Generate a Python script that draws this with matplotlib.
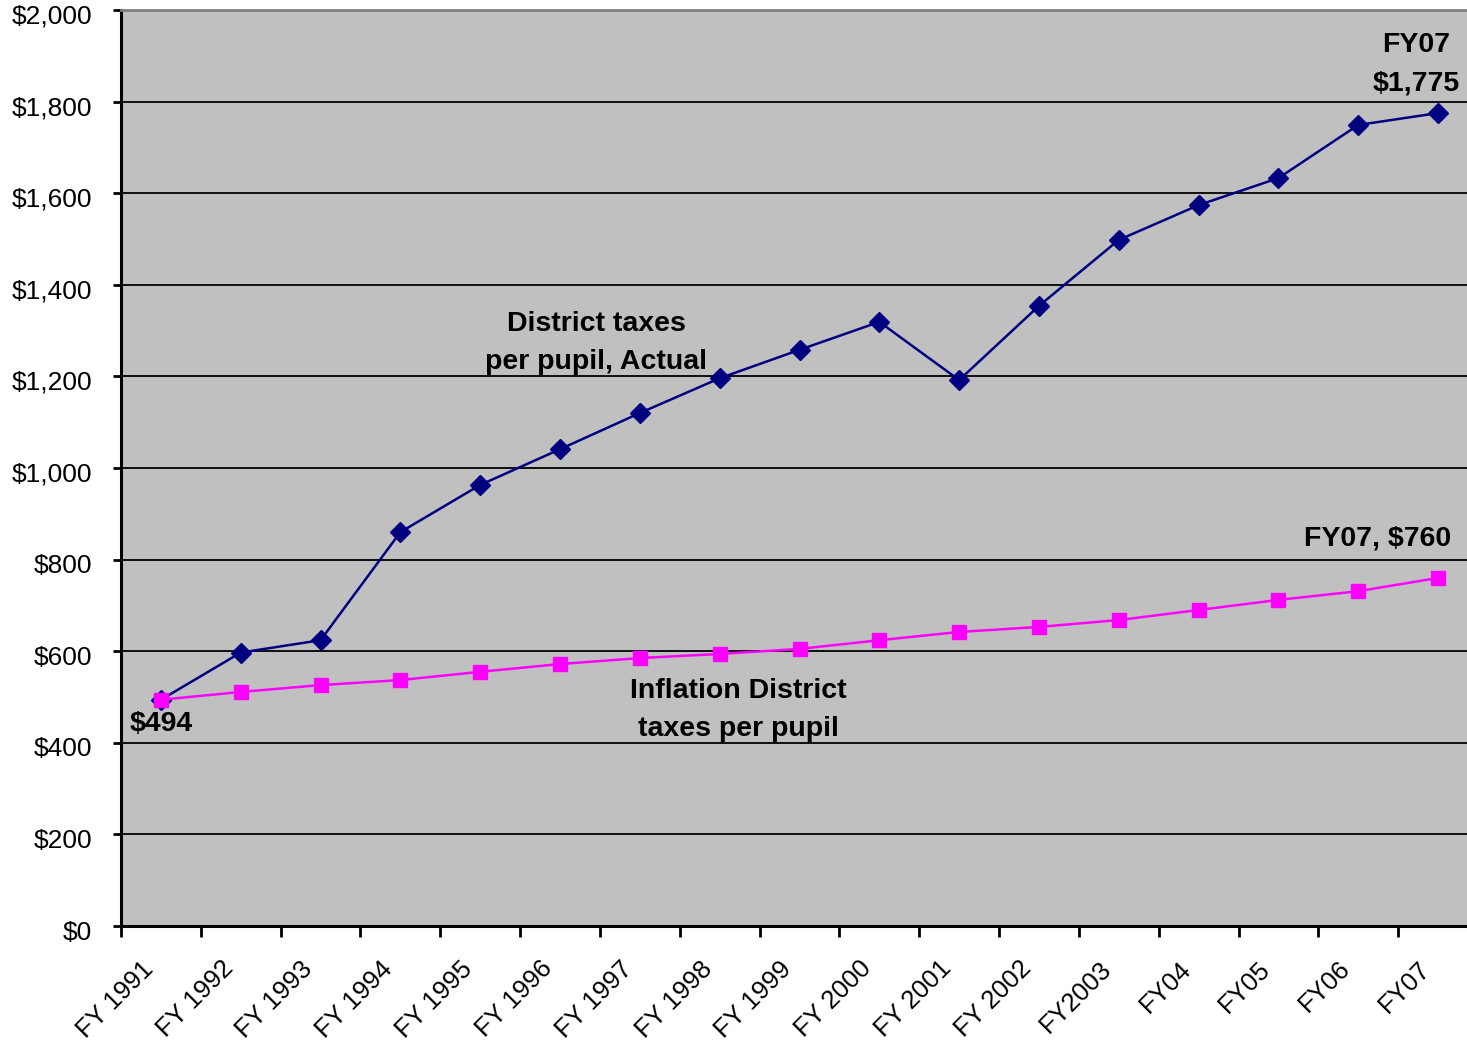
import matplotlib
matplotlib.use("Agg")
import matplotlib.pyplot as plt
from matplotlib.ticker import FuncFormatter, FixedLocator
from matplotlib.transforms import ScaledTranslation

# Fiscal years and per-pupil district taxes
years = ["FY 1991", "FY 1992", "FY 1993", "FY 1994", "FY 1995", "FY 1996",
         "FY 1997", "FY 1998", "FY 1999", "FY 2000", "FY 2001", "FY 2002",
         "FY2003", "FY04", "FY05", "FY06", "FY07"]
actual = [494, 597, 624, 860, 963, 1041, 1120, 1196, 1258, 1319, 1192,
          1354, 1498, 1574, 1633, 1749, 1775]
inflation = [494, 511, 526, 537, 555, 572, 585, 594, 605, 624, 642,
             653, 668, 690, 712, 731, 760]
y_ticks = [0, 200, 400, 600, 800, 1000, 1200, 1400, 1600, 1800, 2000]

plt.rcParams["font.family"] = ["Liberation Sans", "DejaVu Sans"]

W, H = 1467, 1042
fig = plt.figure(figsize=(W / 100, H / 100), dpi=100)
left, right, bottom, top = 121, 1478, 926, 10
ax = fig.add_axes([left / W, 1 - bottom / H, (right - left) / W, (bottom - top) / H])
ax.set_facecolor("#C0C0C0")

x = list(range(len(years)))
ax.set_xlim(-0.5, len(years) - 0.5)
ax.set_ylim(0, 2000)

for v in y_ticks[1:-1]:
    ax.axhline(v, color="black", lw=1.3, zorder=1)

ax.plot(x, actual, color="#000080", lw=1.8, marker="D", markersize=10.5,
        zorder=3)
ax.plot(x, inflation, color="#FF00FF", lw=1.8, marker="s", markersize=10,
        zorder=3)

# Axes styling
for side in ("left", "bottom"):
    ax.spines[side].set_linewidth(2.2)
    ax.spines[side].set_color("black")
ax.spines["top"].set_color("#808080")
ax.spines["top"].set_linewidth(2)
ax.spines["right"].set_visible(False)

ax.yaxis.set_major_locator(FixedLocator(y_ticks))
ax.yaxis.set_major_formatter(FuncFormatter(lambda v, p: f"${int(v):,}"))
ax.tick_params(axis="y", direction="out", length=6, width=2, labelsize=19,
               pad=15)
yshift = ScaledTranslation(0, -4 / 100, fig.dpi_scale_trans)
for lab in ax.get_yticklabels():
    lab.set_transform(lab.get_transform() + yshift)

ax.set_xticks(x)
ax.set_xticklabels(years, rotation=45, ha="right", rotation_mode="anchor",
                   fontsize=18.5)
ax.tick_params(axis="x", which="major", length=0, pad=22)
ax.set_xticks([i - 0.5 for i in range(len(years))], minor=True)
ax.tick_params(axis="x", which="minor", direction="out", length=8, width=2)
xshift = ScaledTranslation(-20 / 100, 0, fig.dpi_scale_trans)
for lab in ax.get_xticklabels():
    lab.set_transform(lab.get_transform() + xshift)

# Annotations
bold = dict(fontsize=20.5, fontweight="bold")
ax.text(5.45, 1273, "District taxes\nper pupil, Actual", ha="center",
        va="center", linespacing=1.63, **bold)
ax.text(7.23, 472, "Inflation District\ntaxes per pupil", ha="center",
        va="center", linespacing=1.63, **bold)
ax.text(-0.39, 440, f"${actual[0]}", ha="left", va="center", **bold)
ax.text(15.73, 1882, f"FY07\n${actual[-1]:,}", ha="center", va="center",
        linespacing=1.6, **bold)
ax.text(15.24, 845, f"FY07, ${inflation[-1]}", ha="center", va="center",
        **bold)

fig.savefig("out.png", dpi=100)
